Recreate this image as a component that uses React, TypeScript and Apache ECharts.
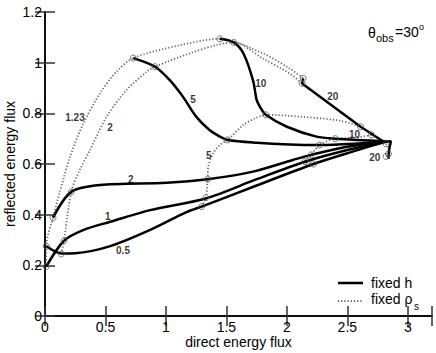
import React, { useEffect, useRef } from "react";
import * as echarts from "echarts";

// Axis ticks
const xTicks = [0, 0.5, 1, 1.5, 2, 2.5, 3];
const yTicks = [0, 0.2, 0.4, 0.6, 0.8, 1, 1.2];

// fixed h curves (solid): [direct, reflected]
const h05 = [[0.01, 0.276], [0.135, 0.247], [0.25, 0.248], [0.54, 0.276], [0.87, 0.34], [1.17, 0.41], [1.295, 0.432], [1.75, 0.515], [2.22, 0.6], [2.55, 0.65], [2.83, 0.69]];
const h1 = [[0.01, 0.195], [0.157, 0.297], [0.32, 0.34], [0.54, 0.372], [0.87, 0.418], [1.336, 0.465], [1.75, 0.54], [2.15, 0.609], [2.5, 0.655], [2.83, 0.69]];
const h2 = [[0.066, 0.388], [0.217, 0.49], [0.455, 0.517], [1.006, 0.526], [1.345, 0.54], [1.72, 0.57], [2.05, 0.616], [2.2, 0.636], [2.5, 0.668], [2.83, 0.69]];
const h5 = [[0.73, 1.018], [0.91, 0.984], [1.03, 0.932], [1.14, 0.866], [1.25, 0.787], [1.36, 0.734], [1.446, 0.708], [1.51, 0.695], [1.75, 0.684], [2.02, 0.677], [2.27, 0.675], [2.55, 0.68], [2.83, 0.69]];
const h10 = [[1.446, 1.094], [1.56, 1.08], [1.64, 1.037], [1.72, 0.93], [1.75, 0.853], [1.777, 0.826], [1.826, 0.794], [2.0, 0.747], [2.245, 0.708], [2.4, 0.7], [2.83, 0.69]];
const h20 = [[2.135, 0.938], [2.126, 0.918], [2.61, 0.747], [2.8, 0.688], [2.86, 0.69], [2.845, 0.655], [2.84, 0.62]];

// fixed rho_s curves (dotted): [direct, reflected, isCrossing]
const rho123 = [[0.01, 0.195, 1], [0.01, 0.276, 1], [0.066, 0.388, 1], [0.15, 0.537, 0], [0.207, 0.629, 0], [0.317, 0.76, 0], [0.455, 0.879, 0], [0.59, 0.964, 0], [0.73, 1.018, 1], [1.09, 1.066, 0], [1.446, 1.094, 1], [1.8, 1.037, 0], [2.02, 0.978, 0], [2.135, 0.938, 1]];
const rho2 = [[0.135, 0.245, 1], [0.157, 0.297, 1], [0.217, 0.49, 1], [0.287, 0.576, 0], [0.372, 0.655, 0], [0.51, 0.787, 0], [0.675, 0.892, 0], [0.84, 0.964, 0], [0.91, 0.984, 1], [1.198, 1.037, 0], [1.42, 1.07, 0], [1.56, 1.08, 1], [1.8, 1.017, 0], [2.02, 0.958, 0], [2.126, 0.918, 1]];
const rho5 = [[1.295, 0.432, 1], [1.33, 0.467, 1], [1.345, 0.54, 1], [1.35, 0.589, 0], [1.39, 0.642, 0], [1.446, 0.675, 0], [1.51, 0.695, 1], [1.64, 0.754, 0], [1.736, 0.78, 0], [1.826, 0.794, 1], [2.107, 0.787, 0], [2.44, 0.771, 0], [2.61, 0.747, 1]];
const rho10 = [[2.22, 0.6, 1], [2.15, 0.609, 1], [2.2, 0.636, 1], [2.27, 0.675, 1], [2.4, 0.7, 1], [2.56, 0.703, 0], [2.7, 0.715, 1]];
const rho20 = [[2.82, 0.68, 1], [2.845, 0.66, 0], [2.84, 0.64, 1], [2.82, 0.63, 1]];

const solidCurves = [h05, h1, h2, h5, h10, h20];
const dottedCurves = [rho123, rho2, rho5, rho10, rho20];

// curve annotations (data coordinates)
const curveLabels = [
  { text: "1.23", x: 0.248, y: 0.782 },
  { text: "2", x: 0.537, y: 0.746 },
  { text: "5", x: 1.355, y: 0.632 },
  { text: "10", x: 2.56, y: 0.718 },
  { text: "20", x: 2.727, y: 0.624 },
  { text: "0.5", x: 0.645, y: 0.26 },
  { text: "1", x: 0.52, y: 0.393 },
  { text: "2", x: 0.71, y: 0.537 },
  { text: "5", x: 1.223, y: 0.855 },
  { text: "10", x: 1.785, y: 0.919 },
  { text: "20", x: 2.38, y: 0.865 },
];

const FONT = '"Liberation Sans", Arial, sans-serif';

export default function App() {
  const ref = useRef<HTMLDivElement>(null);
  useEffect(() => {
    const chart = echarts.init(ref.current!, null, { renderer: "svg" });
    const axisCommon = {
      axisLine: { show: true, lineStyle: { color: "#000", width: 1.5 } },
      axisTick: { show: true, inside: true, length: 10, lineStyle: { color: "#333", width: 1.5 } },
      splitLine: { show: false },
    };
    const series: any[] = [];
    dottedCurves.forEach((c) => {
      series.push({
        type: "line",
        name: "fixed ρs",
        data: c.map((p) => [p[0], p[1]]),
        symbol: "none",
        smooth: 0.3,
        lineStyle: { color: "#666", width: 1.8, type: [1.2, 2] },
        z: 2,
      });
    });
    solidCurves.forEach((c, i) => {
      series.push({
        type: "line",
        name: "fixed h",
        data: c,
        symbol: "none",
        smooth: i === 5 ? false : 0.3,
        lineStyle: { color: "#000", width: 2.5 },
        z: 3,
      });
    });
    const markers: number[][] = [];
    dottedCurves.forEach((c) => c.forEach((p) => { if (p[2]) markers.push([p[0], p[1]]); }));
    series.push({
      type: "scatter",
      data: markers,
      symbol: "circle",
      symbolSize: 6,
      itemStyle: { color: "rgba(0,0,0,0)", borderColor: "#555", borderWidth: 1 },
      z: 4,
    });
    series.push({
      type: "scatter",
      data: curveLabels.map((d) => ({ name: d.text, value: [d.x, d.y] })),
      symbolSize: 0.1,
      itemStyle: { color: "rgba(0,0,0,0)" },
      label: {
        show: true,
        position: "inside",
        formatter: "{b}",
        fontFamily: FONT,
        fontWeight: "bold",
        fontSize: 10,
        color: "#000",
      },
      z: 5,
    });

    const option: any = {
      animation: false,
      backgroundColor: "#fff",
      grid: { left: 45, right: 4, top: 12, bottom: 37, containLabel: false, outerBoundsMode: "none" },
      xAxis: [
        {
          type: "value",
          min: 0,
          max: 3.2,
          interval: 0.5,
          position: "bottom",
          name: "direct energy flux",
          nameLocation: "middle",
          nameGap: 19,
          nameMoveOverlap: false,
          nameTextStyle: { fontFamily: FONT, fontSize: 14, color: "#000" },
          axisLabel: {
            fontFamily: FONT,
            fontSize: 14,
            color: "#000",
            margin: 4,
            formatter: (v: number) => (xTicks.some((t) => Math.abs(t - v) < 1e-6) ? String(v) : ""),
          },
          ...axisCommon,
        },
        {
          type: "value",
          min: 0,
          max: 3.2,
          interval: 0.5,
          position: "top",
          axisLabel: { show: false },
          ...axisCommon,
        },
      ],
      yAxis: [
        {
          type: "value",
          min: 0,
          max: 1.2,
          interval: 0.2,
          position: "left",
          name: "reflected energy flux",
          nameLocation: "middle",
          nameGap: 28,
          nameMoveOverlap: false,
          nameTextStyle: { fontFamily: FONT, fontSize: 14, color: "#000" },
          axisLabel: {
            fontFamily: FONT,
            fontSize: 14,
            color: "#000",
            margin: 3,
            formatter: (v: number) => (yTicks.some((t) => Math.abs(t - v) < 1e-6) ? String(v) : ""),
          },
          ...axisCommon,
        },
        {
          type: "value",
          min: 0,
          max: 1.2,
          interval: 0.2,
          position: "right",
          axisLabel: { show: false },
          ...axisCommon,
        },
      ],
      graphic: [
        { type: "text", x: 368, y: 33, silent: true, style: { text: "θ", fontFamily: FONT, fontSize: 14, fill: "#000", align: "left", verticalAlign: "middle" } },
        { type: "text", x: 376, y: 38, silent: true, style: { text: "obs", fontFamily: FONT, fontSize: 11, fill: "#000", align: "left", verticalAlign: "middle" } },
        { type: "text", x: 395, y: 32, silent: true, style: { text: "=30", fontFamily: FONT, fontSize: 14, fill: "#000", align: "left", verticalAlign: "middle" } },
        { type: "text", x: 419, y: 27, silent: true, style: { text: "o", fontFamily: FONT, fontSize: 9, fill: "#000", align: "left", verticalAlign: "middle" } },
        { type: "line", silent: true, shape: { x1: 338, y1: 283, x2: 363, y2: 283 }, style: { stroke: "#000", lineWidth: 2.5 } },
        { type: "text", x: 371, y: 283, silent: true, style: { text: "fixed h", fontFamily: FONT, fontSize: 14, fill: "#000", align: "left", verticalAlign: "middle" } },
        { type: "line", silent: true, shape: { x1: 338, y1: 301, x2: 363, y2: 301 }, style: { stroke: "#666", lineWidth: 1.8, lineDash: [1.2, 2] } },
        { type: "text", x: 371, y: 299, silent: true, style: { text: "fixed ρ", fontFamily: FONT, fontSize: 14, fill: "#000", align: "left", verticalAlign: "middle" } },
        { type: "text", x: 414, y: 306, silent: true, style: { text: "s", fontFamily: FONT, fontSize: 10, fill: "#000", align: "left", verticalAlign: "middle" } },
      ],
      series,
    };
    chart.setOption(option);
    return () => chart.dispose();
  }, []);
  return <div ref={ref} style={{ position: "fixed", left: 0, top: 0, width: 436, height: 353 }} />;
}
